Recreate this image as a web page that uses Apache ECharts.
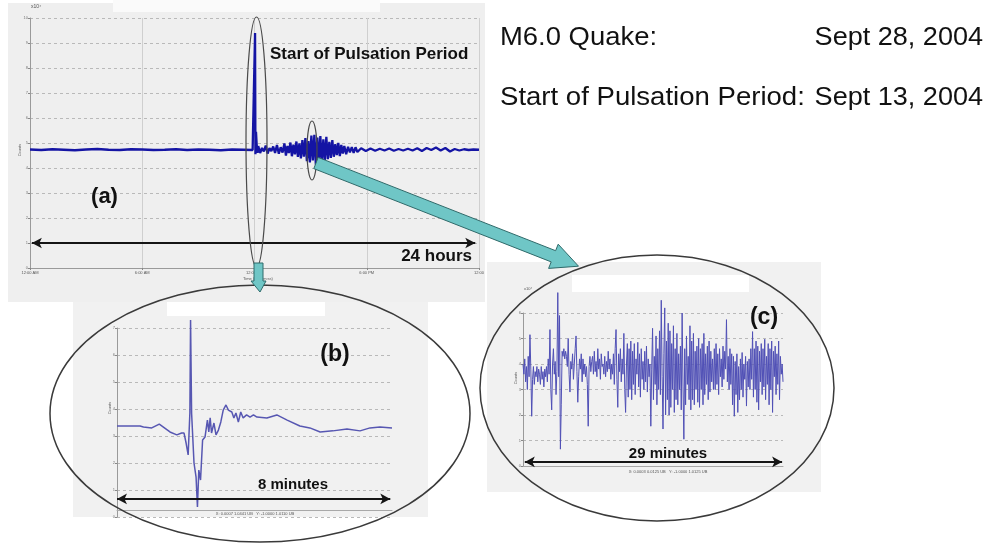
<!DOCTYPE html>
<html><head><meta charset="utf-8">
<script src="https://cdn.jsdelivr.net/npm/echarts@6/dist/echarts.min.js"></script>
<style>html,body{margin:0;padding:0;background:#fff}#c{width:992px;height:543px}</style>
</head><body><div id="c"></div>
<script>
// ---- (a) 24-hour record ----
const aTickLabels = ['12:00 AM', '6:00 AM', '12:00 PM', '6:00 PM', '12:00'];
const aTime = [0,0.6,1.2,1.8,2.4,3.0,3.6,4.2,4.8,5.4,6.0,6.6,7.2,7.8,8.4,9.0,9.6,10.2,10.8,11.4,11.9,
  12.0,12.03,12.05,12.08,12.12,12.16,
  12.2,12.3,12.4,12.5,12.6,12.7,12.8,12.9,13.0,13.1,13.2,13.3,13.4,13.5,
  13.6,13.68,13.76,13.84,13.92,14.0,14.08,14.16,14.24,14.32,14.4,
  14.48,14.56,14.64,14.72,14.8,14.88,14.96,15.04,15.12,15.2,15.28,15.36,15.44,15.52,15.6,15.68,15.76,15.84,15.92,16.0,16.08,16.16,16.24,16.32,16.4,16.48,16.56,16.64,16.72,16.8,16.9,17.0,17.1,17.2,17.3,17.4,17.5,
  17.7,17.95,18.2,18.45,18.7,18.95,19.2,19.45,19.7,19.95,20.2,20.45,20.7,20.95,21.2,21.45,21.7,21.95,22.2,22.45,22.7,22.95,23.2,23.45,23.7,24.0];
const aValue = [4.74,4.72,4.75,4.73,4.71,4.74,4.76,4.73,4.72,4.75,4.74,4.72,4.73,4.75,4.72,4.74,4.73,4.71,4.74,4.73,4.72,
  4.73,9.4,4.55,5.45,4.9,4.6,
  4.88,4.6,4.8,4.66,4.9,4.58,4.79,4.68,4.86,4.6,4.92,4.57,4.83,4.62,
  4.98,4.5,4.88,4.6,5.02,4.47,4.93,4.55,5.06,4.44,4.99,
  4.38,5.12,4.45,5.2,4.27,5.08,4.22,5.3,4.3,5.33,4.13,5.22,4.25,5.28,4.2,5.15,4.32,5.25,4.35,5.05,4.4,5.12,4.45,4.95,4.52,5.0,4.48,4.92,4.58,4.88,4.55,4.85,4.62,4.84,4.6,4.83,4.64,
  4.79,4.68,4.78,4.69,4.77,4.7,4.78,4.69,4.76,4.7,4.77,4.7,4.79,4.68,4.8,4.72,4.82,4.7,4.8,4.66,4.76,4.7,4.75,4.72,4.74,4.73];

// ---- (b) 8-minute zoom on the pulse onset ----
const bTime = [0,0.67,0.77,1.01,1.23,1.35,1.54,1.74,1.88,1.95,2.01,2.07,2.12,2.14,2.17,2.2,2.24,2.3,2.34,2.38,2.43,2.49,2.56,2.63,2.67,2.71,2.75,2.82,2.88,2.95,3.02,3.09,3.17,3.24,3.34,3.4,3.46,3.53,3.6,3.67,3.77,3.87,3.97,4.07,4.36,4.65,4.95,5.32,5.61,5.91,6.28,6.69,7.07,7.36,7.65,8.0];
const bValue = [3.37,3.37,3.33,3.3,3.44,3.33,3.15,3.04,3.11,3.11,2.74,2.3,3.85,7.3,3.85,3.85,2.0,1.48,0.37,1.74,1.37,2.85,2.96,3.59,3.15,3.67,3.11,3.48,3.04,3.22,3.52,3.96,4.15,3.96,3.89,3.67,3.85,3.52,3.89,3.67,3.78,3.7,3.78,3.7,3.67,3.78,3.59,3.37,3.3,3.15,3.19,3.26,3.19,3.3,3.33,3.3];

// ---- (c) 29-minute zoom on the pulsation burst (evenly sampled) ----
const cDuration = 29;
const cValue = [
  4.0,3.6,4.2,3.3,3.9,3.0,4.3,3.5,5.15,3.8,1.95,3.4,3.9,3.2,3.7,3.5,3.9,3.3,3.8,3.6,
  3.2,3.9,3.4,3.7,3.1,3.8,3.5,3.9,3.3,4.2,3.6,5.35,3.0,2.2,4.0,4.6,3.6,4.1,2.8,3.7,
  6.8,3.5,5.9,0.66,2.4,4.5,4.3,4.6,4.2,4.5,4.3,3.9,5.0,3.6,2.9,4.1,3.8,4.4,3.4,4.0,
  4.6,5.1,3.7,2.5,3.5,4.2,3.8,4.4,3.3,4.2,3.6,4.0,3.5,3.9,3.2,1.56,3.9,4.3,3.7,4.1,
  4.3,3.6,4.5,3.7,4.1,3.5,4.6,3.8,4.2,3.4,4.4,3.9,4.0,3.6,4.3,3.5,4.1,3.7,4.5,3.8,
  4.2,3.4,4.0,3.6,4.4,3.2,4.6,5.35,3.4,2.3,4.4,3.7,4.6,3.3,4.2,3.6,5.2,3.0,2.1,4.0,
  4.8,2.7,4.6,3.0,4.9,2.6,4.5,3.2,4.8,2.8,4.2,3.6,4.85,3.1,4.4,2.7,4.6,3.4,4.1,3.0,
  4.5,3.3,4.7,2.9,4.2,3.5,4.0,1.56,3.8,5.4,2.6,4.3,3.2,5.1,2.4,4.6,3.0,5.3,2.8,6.5,
  3.5,1.45,4.4,6.2,2.0,4.9,2.6,5.6,2.0,5.3,2.3,4.8,3.0,5.5,2.1,4.6,2.6,5.2,2.4,4.4,
  3.0,4.7,2.2,6.0,3.1,1.05,4.6,2.4,5.1,3.2,4.3,2.6,5.5,2.2,4.9,2.6,5.2,2.4,4.5,3.0,
  4.7,2.5,5.0,2.3,4.6,3.0,4.8,2.4,5.2,2.8,4.4,3.2,4.7,2.6,4.9,2.9,4.5,3.3,4.2,3.0,
  4.6,3.0,4.8,3.2,4.4,2.8,4.6,3.5,4.2,3.1,4.7,3.4,4.5,3.8,5.74,3.3,4.3,3.0,4.6,3.2,
  4.4,2.4,4.3,1.95,4.1,2.8,4.4,2.1,3.9,2.6,4.2,3.0,4.45,2.7,4.0,3.4,4.3,2.35,4.1,3.1,
  4.2,3.0,4.6,3.4,5.27,2.7,4.6,3.0,4.9,2.5,4.7,2.2,4.5,3.3,4.8,2.8,4.6,3.1,4.97,2.6,
  4.3,3.2,4.8,2.4,4.6,3.0,4.9,2.1,4.5,3.5,4.7,2.8,4.4,3.2,4.9,2.6,4.3,3.6,4.0,3.3];

const aData = aTime.map((t, i) => [t, aValue[i]]);
const bData = bTime.map((t, i) => [t, bValue[i]]);
const cStep = cDuration / (cValue.length - 1);
const cData = cValue.map((v, i) => [i * cStep, v]);

const FONT = '"Liberation Sans", Arial, sans-serif';
const dashSplit = {show: true, lineStyle: {color: '#b9b9b9', width: 1, type: [3, 3]}};

function yAxis(gi, max) {
  return {type: 'value', gridIndex: gi, min: 0, max: max, interval: 1,
    axisLine: {show: true, lineStyle: {color: '#9a9a9a'}},
    axisTick: {show: true, length: 2, lineStyle: {color: '#888'}},
    axisLabel: {show: true, fontSize: 4, color: '#777', margin: 2, fontFamily: FONT},
    splitLine: dashSplit};
}
function arrowLine(x0, x1, y) {
  return {silent: true, symbol: ['arrow', 'arrow'], symbolSize: [8, 10],
    lineStyle: {color: '#151515', width: 2, type: 'solid'}, label: {show: false},
    data: [[{coord: [x0, y]}, {coord: [x1, y]}]]};
}
function txt(x, y, text, size, bold, align, sx) {
  return {type: 'text', z: 100, x: x, y: y, scaleX: sx || 1,
    style: {x: 0, y: 0, text: text, font: (bold ? 'bold ' : '') + size + 'px ' + FONT, fill: '#111',
      align: align || 'left', verticalAlign: 'middle'}};
}
function tiny(x, y, text, size, align, rot) {
  return {type: 'text', z: 100, x: x, y: y, rotation: rot || 0,
    style: {x: 0, y: 0, text: text, font: size + 'px ' + FONT, fill: '#555',
      align: align || 'center', verticalAlign: 'middle'}};
}

// cyan arrows
const bigArrow = [[313.8,168.6],[551.2,261.9],[548.6,268.4],[578.5,266.2],[558.2,244.2],[555.6,250.7],[318.2,157.4]];
const smallArrow = [[254,263],[263,263],[263,281],[266,281],[260,292],[251,281],[254,281]];

const option = {
  animation: false,
  backgroundColor: '#ffffff',
  grid: [
    {left: 30, top: 18, width: 449, height: 250},
    {left: 117, top: 328, width: 275, height: 189},
    {left: 523, top: 313, width: 260, height: 153}
  ],
  xAxis: [
    {type: 'value', gridIndex: 0, min: 0, max: 24, interval: 6,
      axisLine: {show: true, lineStyle: {color: '#9a9a9a'}},
      axisTick: {show: true, length: 2, lineStyle: {color: '#888'}},
      axisLabel: {fontSize: 4, color: '#555', margin: 3, fontFamily: FONT,
        formatter: v => aTickLabels[Math.round(v / 6)]},
      splitLine: {show: true, lineStyle: {color: '#cfcfcf', width: 1}}},
    {type: 'value', gridIndex: 1, min: 0, max: 8, interval: 1, offset: -7,
      axisLine: {show: true, lineStyle: {color: '#a8a8a8'}}, axisTick: {show: false},
      axisLabel: {show: false}, splitLine: {show: false}},
    {type: 'value', gridIndex: 2, min: 0, max: cDuration,
      axisLine: {show: true, lineStyle: {color: '#a8a8a8'}}, axisTick: {show: false},
      axisLabel: {show: false}, splitLine: {show: false}}
  ],
  yAxis: [yAxis(0, 10), yAxis(1, 7), yAxis(2, 6)],
  series: [
    {type: 'line', xAxisIndex: 0, yAxisIndex: 0, data: aData, showSymbol: false,
      lineStyle: {color: '#1414a4', width: 2.3}, z: 3, markLine: arrowLine(0.1, 23.8, 1)},
    {type: 'line', xAxisIndex: 1, yAxisIndex: 1, data: bData, showSymbol: false, clip: false,
      lineStyle: {color: '#5757b2', width: 1.5}, z: 3, markLine: arrowLine(0, 7.95, 0.67)},
    {type: 'line', xAxisIndex: 2, yAxisIndex: 2, data: cData, showSymbol: false, clip: false,
      lineStyle: {color: '#5050b6', width: 1}, z: 3, markLine: arrowLine(0.2, 28.9, 0.16)}
  ],
  graphic: [
    // panel backgrounds
    {type: 'rect', z: -10, shape: {x: 8, y: 3, width: 477, height: 299}, style: {fill: '#efefef'}},
    {type: 'rect', z: -9, shape: {x: 113, y: 0, width: 267, height: 12}, style: {fill: '#fafafa'}},
    {type: 'rect', z: -10, shape: {x: 73, y: 302, width: 355, height: 215}, style: {fill: '#f1f1f1'}},
    {type: 'rect', z: -10, shape: {x: 487, y: 262, width: 334, height: 230}, style: {fill: '#f1f1f1'}},
    // blanked title strips
    {type: 'rect', z: 100, shape: {x: 167, y: 302, width: 158, height: 14}, style: {fill: '#ffffff'}},
    {type: 'rect', z: 100, shape: {x: 572, y: 275, width: 177, height: 17}, style: {fill: '#ffffff'}},
    // ellipses
    {type: 'ellipse', z: 100, shape: {cx: 256.5, cy: 142, rx: 10.5, ry: 125}, style: {fill: 'none', stroke: '#4a4a4a', lineWidth: 1.2}},
    {type: 'ellipse', z: 100, shape: {cx: 312, cy: 150.5, rx: 5, ry: 29.5}, style: {fill: 'none', stroke: '#4a4a4a', lineWidth: 1.2}},
    {type: 'ellipse', z: 100, shape: {cx: 260, cy: 413.5, rx: 210, ry: 128.5}, style: {fill: 'none', stroke: '#3a3a3a', lineWidth: 1.5}},
    {type: 'ellipse', z: 100, shape: {cx: 657, cy: 388, rx: 177, ry: 133}, style: {fill: 'none', stroke: '#3a3a3a', lineWidth: 1.5}},
    // cyan arrows
    {type: 'polygon', z: 101, shape: {points: bigArrow}, style: {fill: '#6fc6c6', stroke: '#2f6a6a', lineWidth: 1}},
    {type: 'polygon', z: 101, shape: {points: smallArrow}, style: {fill: '#6fc6c6', stroke: '#2f6a6a', lineWidth: 1}},
    // annotations
    txt(270, 54, 'Start of Pulsation Period', 17, true),
    txt(104.5, 197, '(a)', 22, true, 'center'),
    txt(472, 256, '24 hours', 17, true, 'right'),
    txt(335, 355, '(b)', 23, true, 'center'),
    txt(293, 485, '8 minutes', 15, true, 'center'),
    txt(764, 318, '(c)', 23, true, 'center'),
    txt(668, 454, '29 minutes', 15, true, 'center'),
    txt(500, 38, 'M6.0 Quake:', 26, false, 'left', 1.055),
    txt(983, 38, 'Sept 28, 2004', 26, false, 'right', 1.04),
    txt(500, 98, 'Start of Pulsation Period:', 26, false, 'left', 1.06),
    txt(983, 98, 'Sept 13, 2004', 26, false, 'right', 1.04),
    // tiny axis texts
    tiny(31, 7, 'x10\u2074', 5, 'left'),
    tiny(20, 150, 'Counts', 4, 'center', Math.PI / 2),
    tiny(258, 279, 'Time (hh:mm:ss)', 4, 'center'),
    tiny(255, 514, 'X: 0.0007 1.0441 UB   Y: -1.0000 1.0110 UB', 4, 'center'),
    tiny(668, 472, 'X: 0.0003 0.0125 UB   Y: -1.0000 1.0125 UB', 4, 'center'),
    tiny(524, 289, 'x10\u2074', 4, 'left'),
    tiny(110, 408, 'Counts', 4, 'center', Math.PI / 2),
    tiny(516, 378, 'Counts', 4, 'center', Math.PI / 2)
  ]
};
const chart = echarts.init(document.getElementById('c'));
chart.setOption(option);
</script>
</body></html>
